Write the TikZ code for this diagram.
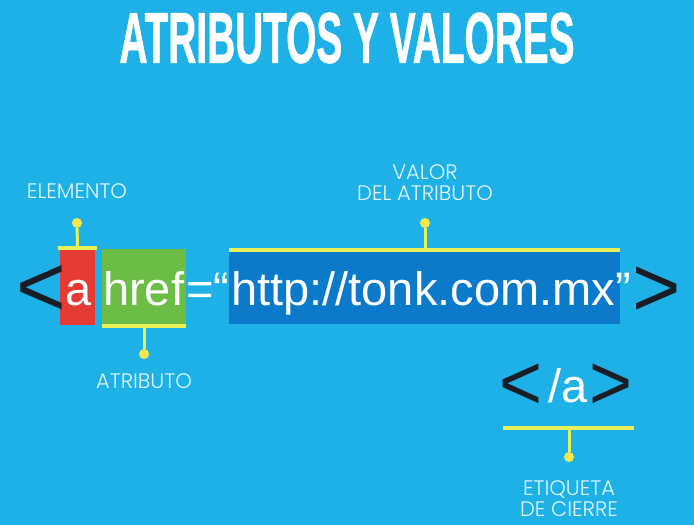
\documentclass[tikz,border=0pt]{standalone}
\usepackage{fontspec}
\setmainfont{Liberation Sans}
\newfontfamily\labfont{Poppins}[UprightFont={* Light}]
\newfontfamily\titlefont{Liberation Sans}[FakeBold=1.2]
\definecolor{bgc}{RGB}{30,177,231}
\definecolor{redc}{RGB}{229,59,52}
\definecolor{greenc}{RGB}{108,189,69}
\definecolor{bluec}{RGB}{11,122,203}
\definecolor{barc}{RGB}{232,240,88}
\definecolor{dotc}{RGB}{247,232,70}
\definecolor{labc}{RGB}{228,246,255}
\definecolor{brk}{RGB}{25,30,38}
\tikzset{
  box/.style={draw=none, inner sep=0pt, rectangle},
  bar/.style={draw=barc, line width=4pt},
  stem/.style={draw=barc, line width=3pt},
  ydot/.style={circle, fill=dotc, inner sep=0pt, minimum size=10pt},
  lab/.style={text=labc, font=\labfont\fontsize{21}{21}\selectfont, align=center, inner sep=0pt},
  code/.style={text=white, font=\fontsize{47}{47}\selectfont, inner sep=0pt, anchor=base west},
  brack/.style={text=brk, font=\fontsize{46}{46}\selectfont, inner sep=0pt, anchor=center},
}
\begin{document}
\begin{tikzpicture}[x=1pt,y=-1pt]
\useasboundingbox[fill=bgc] (0,0) rectangle (694,525);
% title
\node[text=white, inner sep=0pt] (title) at (347,38) {\resizebox{455pt}{50pt}{\titlefont\bfseries ATRIBUTOS Y VALORES}};
% boxes
\node[box, fill=redc, minimum width=35pt, minimum height=77pt] (abox) at (77.5,286.5) {};
\node[box, fill=greenc, minimum width=84pt, minimum height=77pt] (hbox) at (144,287.5) {};
\node[box, fill=bluec, minimum width=391pt, minimum height=74pt] (vbox) at (424.5,287) {};
% brackets
\node[brack] (lt) at (41,291) {\scalebox{1.85}[1.9]{<}};
\node[brack] (gt) at (657,292) {\scalebox{1.8}[1.85]{>}};
% code text
\node[code] (ta) at (65,305) {a};
\node[code] (thref) at (103,305) {href};
\node[code] (teq) at (186,305) {=“};
\node[code] (turl) at (231,305) {http://tonk.com.mx”};
% bars and stems
\draw[bar] ([xshift=-2pt]abox.north west) -- ([xshift=2pt]abox.north east);
\node[ydot] (edot) at (77,223) {};
\draw[stem] (abox.north) -- (edot);
\node[lab] (elem) at (77,191) {ELEMENTO};
\draw[bar] (hbox.south west) -- (hbox.south east);
\node[ydot] (adot) at (144,354) {};
\draw[stem] (hbox.south) -- (adot);
\node[lab] (atr) at (144,381) {ATRIBUTO};
\draw[bar] (vbox.north west) -- (vbox.north east);
\node[ydot] (vdot) at (425,223) {};
\draw[stem] (vbox.north -| vdot) -- (vdot);
\node[lab] (val) at (425,183) {VALOR\\DEL ATRIBUTO};
% closing tag
\node[brack] (clt) at (521,387) {\scalebox{1.6}[1.7]{<}};
\node[code] (cslash) at (548,402) {/a};
\node[brack] (cgt) at (611,387) {\scalebox{1.6}[1.7]{>}};
\coordinate (cl) at (503,428);
\coordinate (cr) at (634,428);
\coordinate (cm) at (569,428);
\draw[bar] (cl) -- (cr);
\node[ydot] (cdot) at (569,457) {};
\draw[stem] (cm) -- (cdot);
\node[lab] (etq) at (569,499) {ETIQUETA\\DE CIERRE};
\end{tikzpicture}
\end{document}
